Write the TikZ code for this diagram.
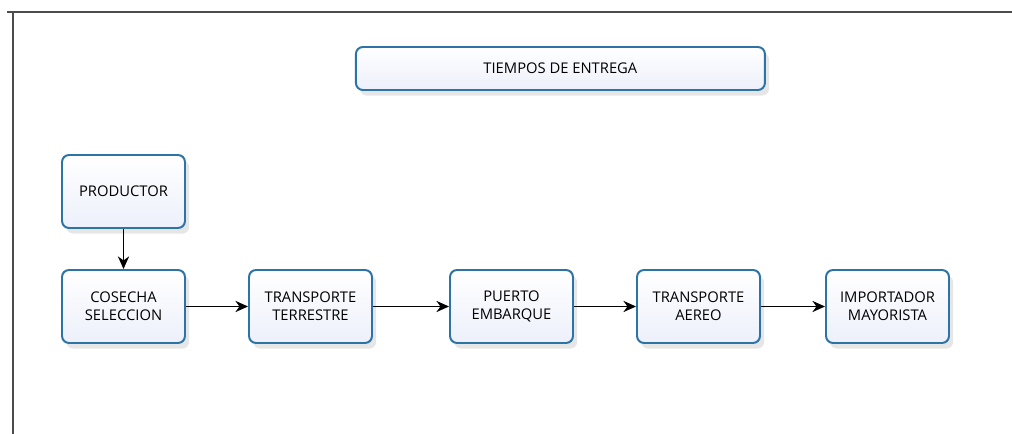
\documentclass[tikz,border=0pt]{standalone}
\usepackage{fontspec}
\setmainfont{Open Sans}
\usetikzlibrary{shadows,arrows.meta}
\definecolor{boxline}{HTML}{2C74A6}
\definecolor{boxfill}{HTML}{EDF0FB}

\begin{document}
\begin{tikzpicture}[
    paso/.style={draw=boxline, line width=1.4pt, rounded corners=5pt,
        top color=white, bottom color=boxfill, minimum width=3.075cm,
        minimum height=1.825cm, align=center, font=\fontsize{10.5}{13}\selectfont,
        drop shadow={shadow xshift=3pt, shadow yshift=-4pt, opacity=0.2}},
    flecha/.style={thick,-{Stealth[length=9pt,width=8pt]}}
    ]
            \useasboundingbox (0,0) rectangle (25.3,10.85);
            \draw[line width=1pt,black!70] (0.175,10.55) -- (25.3,10.55);
            \draw[line width=1pt,black!70] (0.325,10.55) -- (0.325,0);
            \node[paso, minimum width=10.225cm, minimum height=1.075cm] (titulo) at (14.01,9.1375) {TIEMPOS DE ENTREGA};
            \node[paso] (productor) at (3.0875,6.0625) {PRODUCTOR};
            \node[paso] (cosecha) at (3.0875,3.1875) {COSECHA\\SELECCION};
            \node[paso] (terrestre) at (7.7625,3.1875) {TRANSPORTE\\TERRESTRE};
            \node[paso] (puerto) at (12.7875,3.1875) {PUERTO\\EMBARQUE};
            \node[paso] (aereo) at (17.4625,3.1875) {TRANSPORTE\\AEREO};
            \node[paso] (importador) at (22.1875,3.1875) {IMPORTADOR\\MAYORISTA};
            \draw[flecha] (productor) -- (cosecha);
            \draw[flecha] (cosecha) -- (terrestre);
            \draw[flecha] (terrestre) -- (puerto);
            \draw[flecha] (puerto) -- (aereo);
            \draw[flecha] (aereo) -- (importador);
        \end{tikzpicture}
\end{document}
